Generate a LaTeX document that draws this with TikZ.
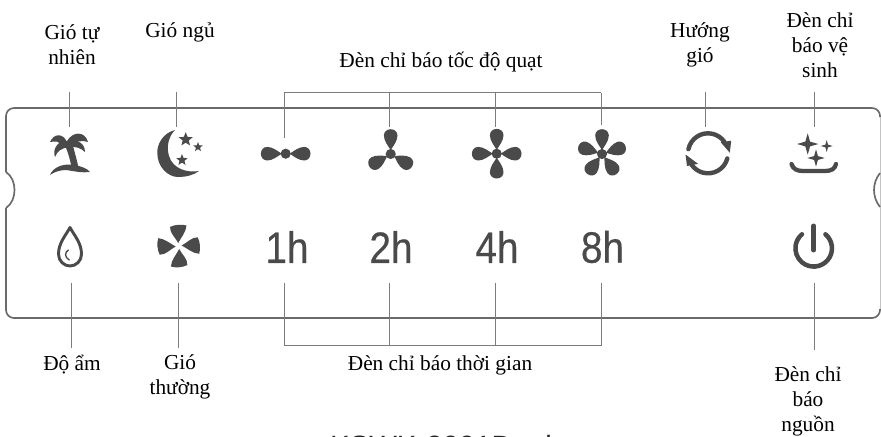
\documentclass[tikz,border=0pt]{standalone}
\usepackage{fontspec}
\setmainfont{Liberation Serif}
\newfontfamily\modelfont{Liberation Sans}
\newfontfamily\hourfont[FakeBold=0.5]{Liberation Sans}
\usetikzlibrary{shapes.geometric}
\definecolor{icongray}{HTML}{4A4A4A}
\definecolor{panelgray}{HTML}{6A6A6A}
\definecolor{leadgray}{HTML}{7C7C7C}
\tikzset{
	lbl/.style={align=center, inner sep=0pt, font=\fontsize{16}{18.75}\selectfont},
	hourlbl/.style={inner sep=0pt, minimum height=54pt, text=icongray, font=\hourfont\fontsize{33}{33}\selectfont},
	iconup/.style={inner sep=0pt, minimum width=30pt, minimum height=39pt},
	icondown/.style={inner sep=0pt, minimum width=30pt, minimum height=53pt},
	lead/.style={draw=leadgray, line width=0.6pt},
	panelline/.style={draw=panelgray, line width=1.25pt},
	iconline/.style={draw=icongray, line cap=round},
	starmark/.style={star, star points=5, star point ratio=2.3, fill=icongray, inner sep=0pt},
	sparkle/.style={star, star points=4, star point ratio=3.2, fill=icongray, inner sep=0pt}
}
\newcommand{\fanblades}[3]{
	\fill[icongray] (#1,#2) circle[radius=3.8pt];
	\foreach \bladeangle in {#3} {
		\begin{scope}[shift={(#1,#2)}, rotate=\bladeangle]
			\fill[icongray] (0,-4) .. controls (-2.5,-8) and (-6.8,-13) .. (-6.8,-18.5)
				.. controls (-6.8,-22.5) and (-3.5,-24.8) .. (0,-24.8)
				.. controls (3.5,-24.8) and (6.8,-22.5) .. (6.8,-18.5)
				.. controls (6.8,-13) and (2.5,-8) .. cycle;
		\end{scope}
	}
}
\begin{document}
\begin{tikzpicture}[x=0.75pt, y=-0.75pt]
	\useasboundingbox (0,0) rectangle (881,436);
	\draw[panelline, rounded corners=6pt] (6,172) -- (6,108) -- (880,108) -- (880,117);
	\draw[panelline, rounded corners=6pt] (6,208) -- (6,318) -- (880,318) -- (880,309);
	\draw[panelline] (6,172) .. controls (12,176) and (14.5,183) .. (14.5,190)
		.. controls (14.5,197) and (12,204) .. (6,208);
	\draw[draw=panelgray!40, line width=0.5pt] (880,117) -- (880,309);
	\draw[panelline] (880,173) .. controls (876,178) and (874,184) .. (874,190)
		.. controls (874,196) and (876,202) .. (880,207);

	\node[iconup] (palm) at (69,153) {};
	\node[iconup] (moon) at (176.5,153) {};
	\node[iconup, minimum height=23.5pt] (fan2) at (284.3,153.7) {};
	\node[iconup] (fan3) at (389.7,153) {};
	\node[iconup] (fan4) at (495.7,153) {};
	\node[iconup, minimum height=42.6pt] (fan5) at (601.3,154) {};
	\node[iconup] (swing) at (705,153) {};
	\node[iconup] (clean) at (814,153) {};
	\node[icondown] (drop) at (71,247) {};
	\node[icondown] (wind) at (178.3,247) {};
	\node[icondown] (power) at (814.7,247) {};
	\node[hourlbl] (hr1) at (287,247) {\scalebox{0.88}[1]{1h}};
	\node[hourlbl] (hr2) at (391,247) {\scalebox{0.88}[1]{2h}};
	\node[hourlbl] (hr4) at (497,247) {\scalebox{0.88}[1]{4h}};
	\node[hourlbl] (hr8) at (602.5,247) {\scalebox{0.88}[1]{8h}};

	\node[lbl] (lblpalm) at (72,45) {Gió tự\\nhiên};
	\node[lbl] (lblmoon) at (180,32) {Gió ngủ};
	\node[lbl] (lblspeed) at (441,62) {Đèn chỉ báo tốc độ quạt};
	\node[lbl] (lblswing) at (700,45) {Hướng\\gió};
	\node[lbl] (lblclean) at (820,45) {Đèn chỉ\\báo vệ\\sinh};
	\node[lbl] (lbldrop) at (72,365) {Độ ẩm};
	\node[lbl] (lblwind) at (180,377) {Gió\\thường};
	\node[lbl] (lbltime) at (440,365) {Đèn chỉ báo thời gian};
	\node[lbl] (lblpower) at (808,401) {Đèn chỉ\\báo\\nguồn};
	\node[anchor=base, inner sep=0pt, text=black!85, font=\modelfont\fontsize{22}{24}\selectfont] (lblmodel) at (441,456) {KSWK-2001Dual};

	\coordinate (tpalm) at (69,92);
	\coordinate (tmoon) at (176.5,92);
	\coordinate (tswing) at (705,92);
	\coordinate (tclean) at (814,92);
	\coordinate (bdrop) at (71,348);
	\coordinate (bwind) at (178.3,348);
	\coordinate (bpower) at (814.7,350);
	\coordinate (top1) at (284.3,92.7);
	\coordinate (top2) at (389.7,92.7);
	\coordinate (top3) at (495.7,92.7);
	\coordinate (top4) at (601.3,92.7);
	\coordinate (bot1) at (284.3,345.7);
	\coordinate (bot2) at (389.7,345.7);
	\coordinate (bot3) at (495.7,345.7);
	\coordinate (bot4) at (601.3,345.7);

	\draw[lead] (tpalm) -- (palm);
	\draw[lead] (tmoon) -- (moon);
	\draw[lead] (tswing) -- (swing);
	\draw[lead] (tclean) -- (clean);
	\draw[lead] (bdrop) -- (drop);
	\draw[lead] (bwind) -- (wind);
	\draw[lead] (bpower) -- (power);
	\draw[lead] (top1) -- (top4);
	\draw[lead] (top1) -- (fan2);
	\draw[lead] (top2) -- (fan3);
	\draw[lead] (top3) -- (fan4);
	\draw[lead] (top4) -- (fan5);
	\draw[lead] (bot1) -- (bot4);
	\draw[lead] (bot1) -- (bot1 |- hr1.south);
	\draw[lead] (bot2) -- (bot2 |- hr2.south);
	\draw[lead] (bot3) -- (bot3 |- hr4.south);
	\draw[lead] (bot4) -- (bot4 |- hr8.south);

	\fill[icongray] (67,142) .. controls (63,133) and (54,133) .. (50,142) .. controls (55,141) and (60,141) .. (62,146) -- cycle;
	\fill[icongray] (68,141) .. controls (58,140) and (52,149) .. (55,157) .. controls (57,151) and (62,148) .. (69,147) -- cycle;
	\fill[icongray] (67,141) .. controls (73,131) and (85,131) .. (88,142) .. controls (82,140) and (76,141) .. (70,146) -- cycle;
	\fill[icongray] (68,141) .. controls (77,139) and (85,143) .. (85,152) .. controls (81,148) and (75,146) .. (68,147) -- cycle;
	\fill[icongray] (64,143) .. controls (68,152) and (71,162) .. (72,171) -- (79,170) .. controls (77,160) and (74,150) .. (72,142) -- cycle;
	\fill[icongray] (50,175) .. controls (53,167) and (64,163) .. (74,165) .. controls (80,166) and (87,168) .. (90,172)
		.. controls (80,173) and (74,171) .. (66,170) .. controls (60,170) and (54,172) .. cycle;

	\fill[icongray] (175,130) .. controls (163,133) and (157,144) .. (157.3,153)
		.. controls (157.3,167) and (168,177) .. (178,177)
		.. controls (186,177) and (194,175) .. (199,171)
		.. controls (187,173) and (173,169) .. (169,156)
		.. controls (166,146) and (169,136) .. cycle;
	\node[starmark, minimum size=11pt] (star1) at (185.7,139.5) {};
	\node[starmark, minimum size=7.5pt] (star2) at (198,147) {};
	\node[starmark, minimum size=9pt] (star3) at (182,160) {};

	\fanblades{285.7}{153.7}{90,270}
	\fanblades{390.7}{154}{0,120,240}
	\fanblades{496.7}{153.7}{0,90,180,270}
	\fanblades{602}{154}{0,72,144,216,288}

	\draw[iconline, line width=3.3pt] (708,153.3) ++(168:15pt) arc[start angle=168, end angle=35, radius=15pt];
	\draw[iconline, line width=3.3pt] (708,153.3) ++(-15:15pt) arc[start angle=-15, end angle=-145, radius=15pt];
	\fill[icongray] (720.7,142.3) -- (731.2,140.7) -- (729.8,152.7) -- cycle;
	\fill[icongray] (685.5,154.5) -- (698,163.8) -- (687,166) -- cycle;

	\node[sparkle, minimum size=16pt] (spark1) at (807.7,144) {};
	\node[sparkle, minimum size=9pt] (spark2) at (826.7,146) {};
	\node[sparkle, minimum size=13pt] (spark3) at (816,158) {};
	\draw[iconline, line width=3.2pt] (791.5,164) .. controls (793,169) and (797,171) .. (803,171) -- (825,171)
		.. controls (831,171) and (835,169) .. (836,164);

	\draw[iconline, line width=2.2pt, line join=round] (70,227.5) .. controls (66,235) and (58.5,243) .. (58.5,254)
		.. controls (58.5,261) and (64,266) .. (70,266)
		.. controls (76,266) and (81.5,261) .. (81.5,254)
		.. controls (81.5,243) and (74,235) .. cycle;
	\draw[iconline, line width=1pt] (68.3,250) .. controls (65,252) and (64,257) .. (69.3,260);

	\foreach \bladeangle in {0,90,180,270} {
		\begin{scope}[shift={(178.7,246)}, rotate=\bladeangle]
			\fill[icongray] (-0.5,-3) .. controls (-3,-8) and (-9,-13) .. (-8.7,-19)
				.. controls (-4,-21.5) and (3,-22) .. (7.8,-20.5)
				.. controls (7.5,-14) and (2,-8) .. cycle;
		\end{scope}
	}

	\draw[iconline, line width=3.4pt] (813.7,248.3) ++(50:13.7pt) arc[start angle=50, end angle=-230, radius=13.7pt];
	\draw[iconline, line width=3.7pt] (813.7,226) -- (813.7,250);
\end{tikzpicture}
\end{document}
